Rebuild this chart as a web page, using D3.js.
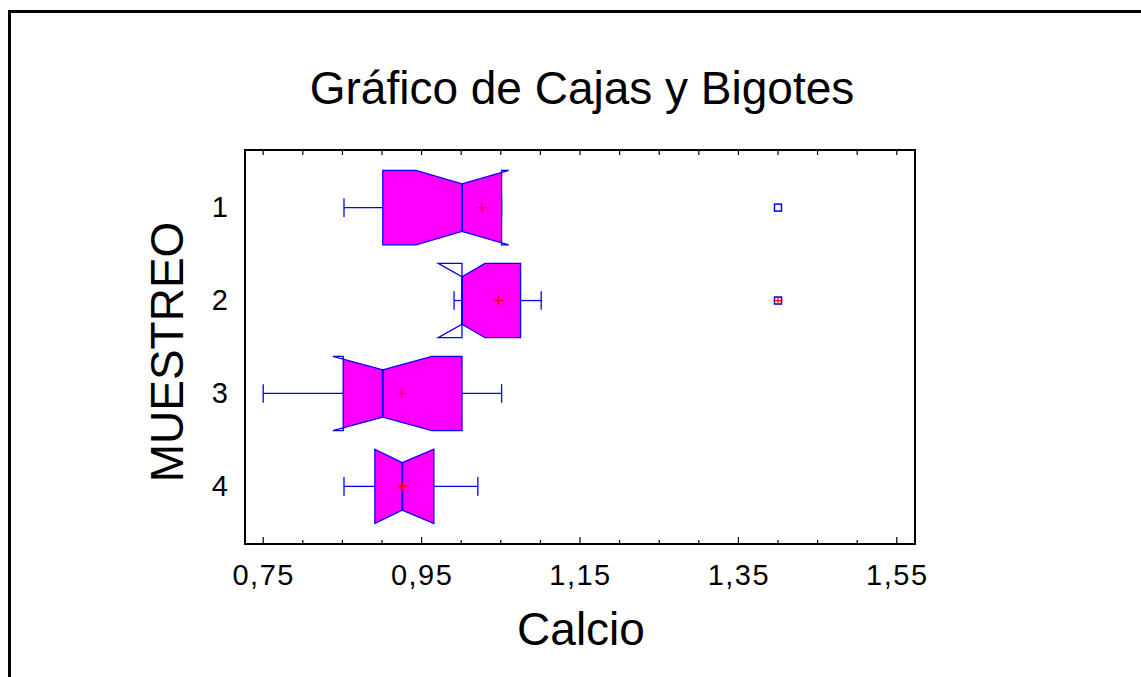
<!DOCTYPE html>
<html>
<head>
<meta charset="utf-8">
<script src="https://cdn.jsdelivr.net/npm/d3@7"></script>
<style>
  html, body { margin: 0; padding: 0; background: #fff; }
  svg { display: block; }
  text { font-family: "Liberation Sans", Arial, sans-serif; fill: #000; }
</style>
</head>
<body>
<svg id="chart" width="1141" height="677"></svg>
<script>
// Calcio por muestreo: notched box-and-whisker summary
const categories  = ["1", "2", "3", "4"];
const whiskerLow  = [0.852, 0.991, 0.750, 0.852];
const q1          = [0.901, 1.001, 0.851, 0.891];
const median      = [1.001, 1.001, 0.901, 0.9255];
const q3          = [1.051, 1.075, 1.001, 0.9655];
const whiskerHigh = [1.051, 1.101, 1.051, 1.021];
const means       = [1.026, 1.047, 0.925, 0.926];
const notchLow    = [0.943, 0.971, 0.838, 0.891];
const notchHigh   = [1.060, 1.030, 0.963, 0.9655];

// points outside the whiskers (far = beyond the outer fence)
const outlierCategory = ["1", "2"];
const outlierValue    = [1.40, 1.40];
const outlierFar      = [false, true];

const xTickValues = [0.75, 0.95, 1.15, 1.35, 1.55];
const xMinorStep  = 0.05;

const titleText = "Gráfico de Cajas y Bigotes";
const xTitle = "Calcio";
const yTitle = "MUESTREO";

const BLUE = "#0000ff", MAGENTA = "#ff00ff", RED = "#ff0000";

const svg = d3.select("#chart");
const plot = { left: 245, top: 150, right: 915, bottom: 544 };

const x = d3.scaleLinear().domain([0.727, 1.573]).range([plot.left, plot.right]);
const y = d3.scalePoint().domain(categories).range([plot.top, plot.bottom]).padding(0.62);
const step = y.step();
const boxHalf = 0.40 * step;
const notchHalf = 0.255 * step;
const capHalf = 0.10 * step;
const plusHalf = 4.5;

// outer page frame (left and top edges)
svg.append("path")
  .attr("d", `M9.5,677 V11.5 H1141`)
  .attr("fill", "none").attr("stroke", "#000").attr("stroke-width", 3);

// title
svg.append("text")
  .attr("x", 582).attr("y", 104)
  .attr("text-anchor", "middle")
  .style("font-size", "46px")
  .text(titleText);

// plot frame
svg.append("rect")
  .attr("x", plot.left).attr("y", plot.top)
  .attr("width", plot.right - plot.left).attr("height", plot.bottom - plot.top)
  .attr("fill", "none").attr("stroke", "#000").attr("stroke-width", 2);

// tick marks on bottom and top edges
const allTicks = d3.range(0, 17).map(i => +(0.75 + i * xMinorStep).toFixed(2));
const isMajor = v => xTickValues.some(t => Math.abs(t - v) < 1e-9);

const bottomAxis = d3.axisBottom(x)
  .tickValues(xTickValues)
  .tickFormat(d => d3.format(".2f")(d).replace(".", ","))
  .tickSize(0).tickPadding(20);
const gx = svg.append("g").attr("transform", `translate(0,${plot.bottom})`).call(bottomAxis);
gx.select(".domain").remove();
gx.selectAll("text").style("font-size", "29px")
  .style("letter-spacing", "1.5px")
  .style("font-family", "'Liberation Sans', Arial, sans-serif").attr("fill", "#000");

svg.append("g").selectAll("line.bt").data(allTicks).join("line")
  .attr("x1", d => x(d)).attr("x2", d => x(d))
  .attr("y1", plot.bottom).attr("y2", d => plot.bottom - (isMajor(d) ? 7 : 4))
  .attr("stroke", "#000").attr("stroke-width", 1.2);
svg.append("g").selectAll("line.tt").data(allTicks).join("line")
  .attr("x1", d => x(d)).attr("x2", d => x(d))
  .attr("y1", plot.top).attr("y2", plot.top + 5)
  .attr("stroke", "#000").attr("stroke-width", 1.2);

// category labels
const leftAxis = d3.axisLeft(y).tickSize(0).tickPadding(17);
const gy = svg.append("g").attr("transform", `translate(${plot.left},0)`).call(leftAxis);
gy.select(".domain").remove();
gy.selectAll("text").style("font-size", "29px")
  .style("font-family", "'Liberation Sans', Arial, sans-serif").attr("fill", "#000");

// axis titles
svg.append("text")
  .attr("x", 581).attr("y", 645)
  .attr("text-anchor", "middle")
  .style("font-size", "46px")
  .text(xTitle);
svg.append("text")
  .attr("transform", `translate(183,352) rotate(-90)`)
  .attr("text-anchor", "middle")
  .style("font-size", "46px")
  .text(yTitle);

// boxes
const rows = categories.map((c, i) => ({
  c, i, wl: whiskerLow[i], q1: q1[i], med: median[i], q3: q3[i],
  wh: whiskerHigh[i], mean: means[i], nl: notchLow[i], nh: notchHigh[i]
}));

const defs = svg.append("defs");
rows.forEach(r => {
  defs.append("clipPath").attr("id", `boxclip${r.i}`)
    .append("rect")
    .attr("x", x(r.q1)).attr("y", y(r.c) - boxHalf - 2)
    .attr("width", x(r.q3) - x(r.q1)).attr("height", 2 * boxHalf + 4);
});

function boxPath(r) {
  const cy = y(r.c), t = cy - boxHalf, b = cy + boxHalf;
  const nt = cy - notchHalf, nb = cy + notchHalf;
  return `M${x(r.q1)},${t} L${x(r.nl)},${t} L${x(r.med)},${nt} L${x(r.nh)},${t} L${x(r.q3)},${t}` +
         ` L${x(r.q3)},${b} L${x(r.nh)},${b} L${x(r.med)},${nb} L${x(r.nl)},${b} L${x(r.q1)},${b} Z`;
}

const g = svg.append("g");

// whiskers
rows.forEach(r => {
  const cy = y(r.c);
  const wg = g.append("g").attr("stroke", BLUE).attr("stroke-width", 1.3).attr("fill", "none");
  wg.append("line").attr("x1", x(r.wl)).attr("x2", x(r.q1)).attr("y1", cy).attr("y2", cy);
  wg.append("line").attr("x1", x(r.q3)).attr("x2", x(r.wh)).attr("y1", cy).attr("y2", cy);
  wg.append("line").attr("x1", x(r.wl)).attr("x2", x(r.wl)).attr("y1", cy - capHalf).attr("y2", cy + capHalf);
  wg.append("line").attr("x1", x(r.wh)).attr("x2", x(r.wh)).attr("y1", cy - capHalf).attr("y2", cy + capHalf);
});

// box fill and outline
rows.forEach(r => {
  g.append("path").attr("d", boxPath(r))
    .attr("fill", MAGENTA).attr("stroke", "none")
    .attr("clip-path", `url(#boxclip${r.i})`);
  g.append("path").attr("d", boxPath(r))
    .attr("fill", "none").attr("stroke", BLUE).attr("stroke-width", 1.3)
    .attr("stroke-linejoin", "miter");
  const cy = y(r.c);
  g.append("line")
    .attr("x1", x(r.med)).attr("x2", x(r.med))
    .attr("y1", cy - notchHalf).attr("y2", cy + notchHalf)
    .attr("stroke", BLUE).attr("stroke-width", 2);
});

// means
rows.forEach(r => {
  const cx = x(r.mean), cy = y(r.c);
  g.append("path")
    .attr("d", `M${cx - plusHalf},${cy} H${cx + plusHalf} M${cx},${cy - plusHalf} V${cy + plusHalf}`)
    .attr("stroke", RED).attr("stroke-width", 1.2).attr("fill", "none");
});

// outside points
outlierValue.forEach((v, i) => {
  const cx = x(v), cy = y(outlierCategory[i]);
  g.append("rect")
    .attr("x", cx - 3.5).attr("y", cy - 3.5).attr("width", 7).attr("height", 7)
    .attr("fill", "#fff").attr("stroke", BLUE).attr("stroke-width", 1.5);
  if (outlierFar[i]) {
    g.append("path")
      .attr("d", `M${cx - plusHalf},${cy} H${cx + plusHalf} M${cx},${cy - plusHalf} V${cy + plusHalf}`)
      .attr("stroke", RED).attr("stroke-width", 1.2).attr("fill", "none");
  }
});
</script>
</body>
</html>
